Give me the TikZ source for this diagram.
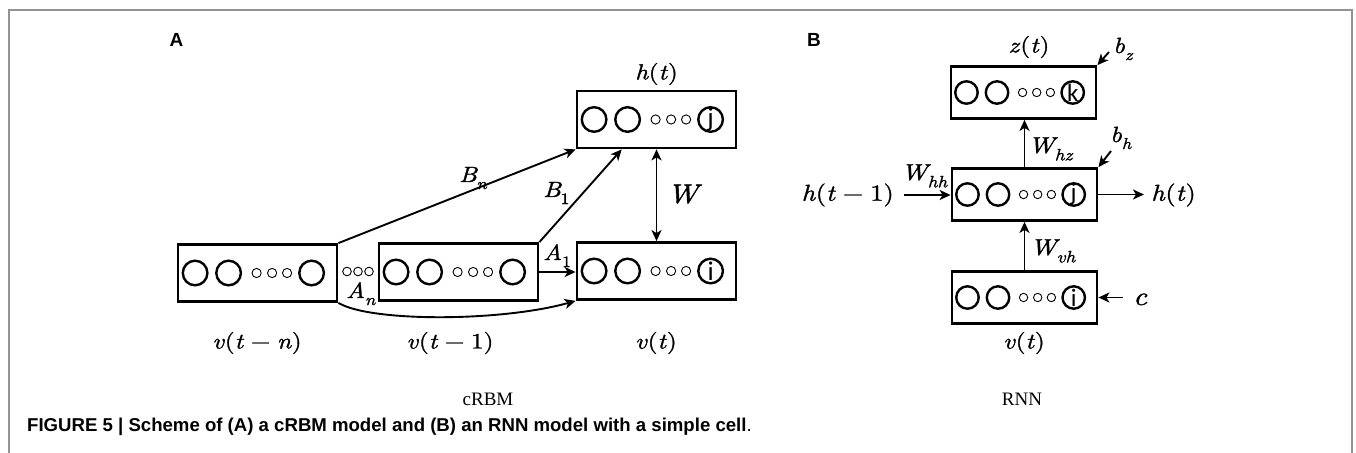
\documentclass[tikz,border=0pt]{standalone}
\usepackage[no-math]{fontspec}
\setmainfont{Liberation Serif}
\newfontfamily\capfont{Liberation Sans}
\newfontfamily\letfont{Carlito}
\newfontfamily\mf{lmroman10}[Extension=.otf, UprightFont=*-regular, ItalicFont=*-italic, FakeBold=1.3, FakeStretch=1.15]
\usetikzlibrary{arrows.meta,calc}

\newcommand\mv[1]{\textit{#1}}
\newcommand\msb[1]{\raisebox{-0.32em}{\scalebox{0.72}{#1}}}
\newcommand\mmin{\hspace{0.3em}−\hspace{0.3em}}

\tikzset{
  layerbox/.style={draw, line width=2.8bp, rectangle, inner sep=0pt},
  bigc/.style={line width=2.4bp},
  smallc/.style={line width=0.9bp},
  tipA/.tip={Stealth[length=11bp,width=10bp,inset=3bp]},
  arr/.style={line width=1.9bp, -tipA},
  dblarr/.style={line width=1.9bp, tipA-tipA},
  mlab/.style={inner sep=0pt, font=\mf\fontsize{22bp}{25bp}\selectfont},
  slab/.style={inner sep=0pt, font=\mf\fontsize{22bp}{26bp}\selectfont},
  wlab/.style={inner sep=0pt, font=\mf\fontsize{23bp}{28bp}\selectfont},
  plab/.style={inner sep=0pt, font=\capfont\bfseries\fontsize{19bp}{22bp}\selectfont},
  tlab/.style={inner sep=0pt, font=\fontsize{19bp}{22bp}\selectfont},
}

% #1 name, #2 x, #3 y, #4 scale, #5 letter, #6 letter font size
\newcommand{\mylayer}[6]{%
  \node[layerbox, minimum width=#4*159bp, minimum height=#4*57bp] (#1) at (#2,#3) {};
  \draw[bigc] ($(#1.west)+(#4*18.5,0)$) circle[radius=#4*12.3bp];
  \draw[bigc] ($(#1.west)+(#4*52,0)$) circle[radius=#4*12.3bp];
  \draw[smallc] ($(#1.west)+(#4*80,0)$) circle[radius=#4*4.6bp];
  \draw[smallc] ($(#1.west)+(#4*95.5,0)$) circle[radius=#4*4.6bp];
  \draw[smallc] ($(#1.west)+(#4*110.5,0)$) circle[radius=#4*4.6bp];
  \draw[bigc] ($(#1.west)+(#4*135,0)$) circle[radius=#4*12.3bp];
  \node[inner sep=0pt, font=\letfont\fontsize{#6}{#6}\selectfont] (#1-u) at ($(#1.west)+(#4*135,0)$) {#5};
}

\begin{document}
\begin{tikzpicture}[x=1bp, y=-1bp]
  \useasboundingbox (0,0) rectangle (1356,453);
  % frame
  \draw[gray!85, line width=1.3bp] (9,453) -- (9,10) -- (1352,10) -- (1352,453);

  % ---------- Panel A ----------
  \node[plab, anchor=base] (pA) at (176.5,47) {A};
  \mylayer{vtn}{257.5}{273}{1}{}{27bp}
  \mylayer{vta}{458.5}{272}{1}{}{27bp}
  \mylayer{vt}{656.5}{271}{1}{i}{27bp}
  \mylayer{ht}{656.5}{119.5}{1}{j}{27bp}
  % dots between v(t-n) and v(t-1)
  \foreach \xx in {347,358,369}
    \draw[smallc] (\xx,271.5) circle[radius=4.3bp];

  \node[mlab] (lht) at (656.5,74) {\mv{h}(\mv{t})};
  \node[mlab] (lvtn) at (257,343) {\mv{v}(\mv{t}\mmin\mv{n})};
  \node[mlab] (lvta) at (450,343) {\mv{v}(\mv{t}\mmin 1)};
  \node[mlab] (lvt) at (656,343) {\mv{v}(\mv{t})};
  \node[tlab, anchor=base] (crbm) at (488,405) {cRBM};

  \draw[arr] (vtn.north east) -- (ht.south west);
  \draw[arr] (vta.north east) -- ($(ht.south west)!0.285!(ht.south east)$);
  \draw[dblarr] (ht.south) -- (vt.north);
  \draw[arr] (vta.east) -- (vta.east -| vt.west);
  \draw[arr] (vtn.south east) .. controls (370,322) and (500,322) .. (vt.south west);

  \node[slab, anchor=base west] (lBn) at (459,182) {\mv{B}\hspace{-0.06em}\msb{\mv{n}}};
  \node[slab, anchor=base west] (lB1) at (543,197) {\mv{B}\hspace{-0.06em}\msb{1}};
  \node[inner sep=0pt, font=\mf\fontsize{27bp}{30bp}\selectfont, anchor=base west] (lW) at (667,203) {\mv{W}};
  \node[slab, anchor=base west] (lA1) at (543,260) {\mv{A}\msb{1}};
  \node[slab, anchor=base west] (lAn) at (346,298) {\mv{A}\msb{\mv{n}}};

  % ---------- Panel B ----------
  \node[plab, anchor=base] (pB) at (814,47) {B};
  \mylayer{zb}{1023.5}{92.5}{0.912}{k}{25bp}
  \mylayer{hb}{1024.5}{194.5}{0.912}{j}{25bp}
  \mylayer{vb}{1024.5}{297.5}{0.912}{i}{25bp}

  \node[mlab] (lzt) at (1029,47) {\mv{z}(\mv{t})};
  \node[mlab] (lvb) at (1024,343) {\mv{v}(\mv{t})};
  \node[tlab, anchor=base] (rnn) at (1022,405) {RNN};
  \node[mlab, font=\mf\fontsize{23bp}{26bp}\selectfont, anchor=east] (hm1) at (894,195) {\mv{h}(\mv{t}\mmin 1)};
  \node[mlab, font=\mf\fontsize{23bp}{26bp}\selectfont, anchor=west] (htB) at (1151,195) {\mv{h}(\mv{t})};

  \draw[arr] (hb.north) -- (hb.north |- zb.south);
  \draw[arr] (vb.north) -- (vb.north |- hb.south);
  \draw[arr, shorten <=10bp] (hm1.east) -- (hm1.east -| hb.west);
  \draw[arr, shorten >=7bp] (hb.east) -- (hb.east -| htB.west);

  \coordinate (bzs) at (1109,52);
  \coordinate (bhs) at (1111,151);
  \coordinate (cs) at (1123,297.5);
  \draw[arr] (bzs) -- (zb.north east);
  \draw[arr] (bhs) -- (hb.north east);
  \draw[arr] (cs) -- (vb.east);

  \node[wlab, anchor=base west] (lWhz) at (1028,153) {\mv{W}\hspace{-0.14em}\msb{\mv{hz}}};
  \node[wlab, anchor=base west] (lWhh) at (901,180) {\mv{W}\hspace{-0.14em}\msb{\mv{hh}}};
  \node[wlab, anchor=base west] (lWvh) at (1030,255) {\mv{W}\hspace{-0.14em}\msb{\mv{vh}}};
  \node[slab, anchor=base west] (lbz) at (1113,53) {\mv{b}\msb{\mv{z}}};
  \node[slab, anchor=base west] (lbh) at (1110,142) {\mv{b}\msb{\mv{h}}};
  \node[inner sep=0pt, font=\mf\fontsize{26bp}{30bp}\selectfont, anchor=base west] (lc) at (1133,305) {\mv{c}};

  % caption
  \node[inner sep=0pt, anchor=base west, font=\capfont\bfseries\fontsize{18.6bp}{22bp}\selectfont] (cap) at (27,431)
    {FIGURE 5 | Scheme of (A) a cRBM model and (B) an RNN model with a simple cell\mdseries.};
\end{tikzpicture}
\end{document}
